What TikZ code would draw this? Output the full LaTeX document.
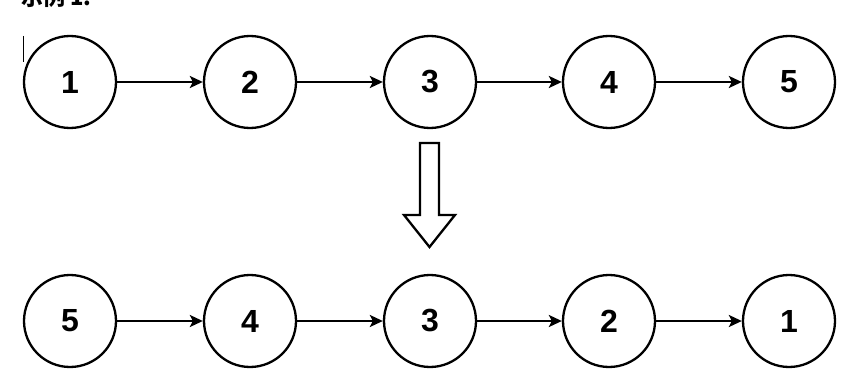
\documentclass[tikz,border=0pt]{standalone}
\usepackage{fontspec}
\setmainfont{Liberation Sans}
\newfontfamily\cjk{Noto Sans CJK SC}
\usetikzlibrary{arrows.meta}
\begin{document}
\begin{tikzpicture}[x=1pt,y=-1pt,
  nd/.style={circle,draw,line width=2.3pt,minimum size=92pt,inner sep=0pt,
    font=\fontsize{32}{32}\selectfont\bfseries},
  conn/.style={line width=2.3pt,-{Stealth[length=13pt,width=12pt,inset=3pt]}},
  hollow/.style={draw,line width=2.3pt,line join=miter,fill=white}]
\clip (0,0) rectangle (868,385);
\fill[white] (0,0) rectangle (868,385);
% title (cut off at the top edge)
\node[anchor=base west,inner sep=0pt,font=\cjk\bfseries\fontsize{22}{22}\selectfont] (title) at (21,6) {示例 1:};
% cursor
\draw[line width=1.5pt] (23.5,36) -- (23.5,62);
% top row
\node[nd] (a1) at (70,82) {1};
\node[nd] (a2) at (250,82) {2};
\node[nd] (a3) at (430,82) {3};
\node[nd] (a4) at (609,82) {4};
\node[nd] (a5) at (789,82) {5};
\draw[conn] (a1) -- (a2);
\draw[conn] (a2) -- (a3);
\draw[conn] (a3) -- (a4);
\draw[conn] (a4) -- (a5);
% hollow arrow
\draw[hollow] (420,143) -- (439,143) -- (439,215) -- (455,215) -- (429.5,247) -- (404,215) -- (420,215) -- cycle;
% bottom row
\node[nd] (b5) at (70,321) {5};
\node[nd] (b4) at (250,321) {4};
\node[nd] (b3) at (430,321) {3};
\node[nd] (b2) at (609,321) {2};
\node[nd] (b1) at (789,321) {1};
\draw[conn] (b5) -- (b4);
\draw[conn] (b4) -- (b3);
\draw[conn] (b3) -- (b2);
\draw[conn] (b2) -- (b1);
\end{tikzpicture}
\end{document}
